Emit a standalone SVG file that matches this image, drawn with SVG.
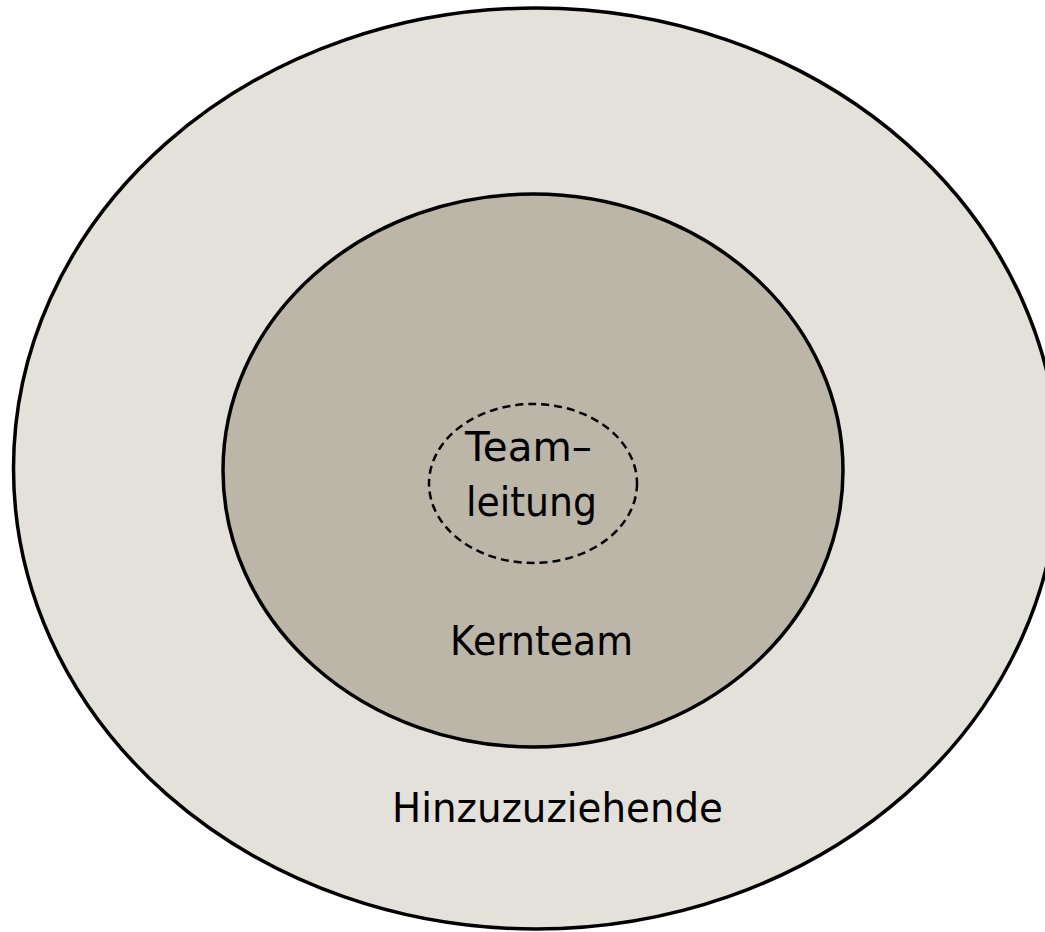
<svg xmlns="http://www.w3.org/2000/svg" width="1045" height="932" viewBox="0 0 1045 932">
  <style>
    .ring { stroke: #000; stroke-width: 3.5; }
    .outer { fill: #e4e1da; }
    .inner { fill: #bbb6a8; }
    .lead { fill: none; stroke: #000; stroke-width: 2.5; stroke-dasharray: 8 5; }
    .label { font-family: "DejaVu Sans", "Liberation Sans", sans-serif; font-size: 40px; fill: #000; }
  </style>
  <rect width="1045" height="932" fill="#ffffff"/>
  <g id="hinzuzuziehende">
    <ellipse class="ring outer" cx="536" cy="468.5" rx="522.5" ry="460.5"/>
    <text class="label" x="392" y="822" textLength="331" lengthAdjust="spacingAndGlyphs">Hinzuzuziehende</text>
  </g>
  <g id="kernteam">
    <ellipse class="ring inner" cx="533" cy="470.5" rx="310" ry="276.5"/>
    <text class="label" x="450" y="655" textLength="183" lengthAdjust="spacingAndGlyphs">Kernteam</text>
  </g>
  <g id="teamleitung">
    <ellipse class="lead" cx="533" cy="483.5" rx="104" ry="79.5"/>
    <text class="label" x="465" y="461" textLength="127" lengthAdjust="spacingAndGlyphs">Team–</text>
    <text class="label" x="466" y="516" textLength="131" lengthAdjust="spacingAndGlyphs">leitung</text>
  </g>
</svg>
